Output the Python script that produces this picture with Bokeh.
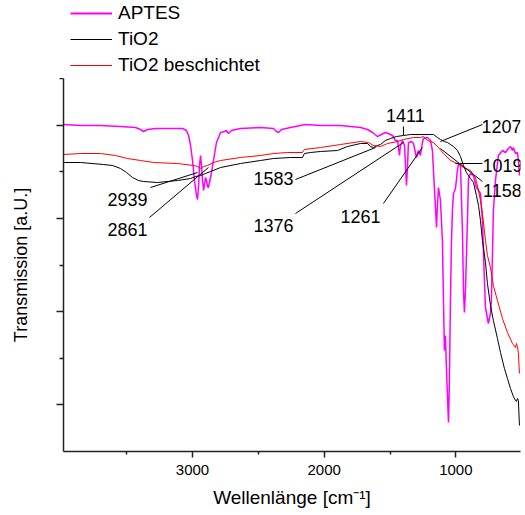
from bokeh.plotting import figure
from bokeh.layouts import column
from bokeh.models import Range1d, FixedTicker, Legend, LegendItem, ColumnDataSource
from bokeh.embed import file_html
from bokeh.resources import INLINE

FONT = "Liberation Sans"

# ---- data (wavenumber [cm-1], transmission [a.U.]) ----
aptes_wn = [3980, 3850, 3699, 3547, 3433, 3395, 3372, 3342, 3281, 3167, 3076, 3046, 3030, 3015,
            3000, 2985, 2970, 2962, 2954, 2947, 2939, 2932, 2924, 2916, 2909, 2901, 2894, 2886,
            2879, 2871, 2856, 2841, 2818, 2787, 2757, 2742, 2727, 2704, 2636, 2484, 2385, 2362,
            2347, 2324, 2256, 2142, 2028, 1876, 1724, 1671, 1633, 1595, 1565, 1535, 1512, 1481,
            1459, 1443, 1428, 1421, 1405, 1390, 1375, 1367, 1360, 1337, 1322, 1299, 1284, 1269,
            1254, 1246, 1216, 1193, 1178, 1162, 1147, 1140, 1132, 1117, 1102, 1094, 1087, 1079,
            1071, 1056, 1049, 1041, 1033, 1026, 1018, 1003, 988, 980, 965, 950, 942, 935, 927,
            912, 904, 889, 866, 844, 828, 813, 798, 783, 775, 760, 753, 737, 730, 722, 715, 699,
            677, 646, 623, 601, 585, 570, 563, 547, 532, 525, 517]
aptes_t = [327, 326, 326, 325, 324, 322, 320, 322, 323, 323, 323, 321, 316, 306,
           291, 271, 256, 252, 266, 286, 296, 286, 271, 261, 267, 274, 271, 265,
           264, 269, 279, 291, 309, 319, 320, 321, 318, 321, 323, 324, 323, 320,
           319, 322, 324, 327, 326, 326, 324, 322, 319, 315, 317, 319, 318, 316,
           311, 311, 296, 306, 311, 306, 266, 286, 309, 310, 308, 294, 301, 296,
           309, 313, 314, 311, 301, 261, 224, 246, 264, 251, 211, 151, 101, 116,
           81, 29, 71, 151, 211, 241, 258, 263, 281, 288, 286, 221, 161, 139, 161,
           231, 273, 278, 276, 264, 261, 258, 231, 171, 144, 133, 128, 138, 151, 196, 241, 271,
           296, 301, 299, 303, 305, 301, 304, 298, 299, 291, 276]

tio2_wn = [3980, 3850, 3676, 3607, 3547, 3501, 3456, 3410, 3372, 3266, 3114, 3015, 2977, 2939,
           2901, 2863, 2787, 2636, 2484, 2385, 2256, 2165, 2150, 2104, 2028, 1899, 1823, 1724,
           1671, 1648, 1626, 1595, 1572, 1535, 1497, 1451, 1398, 1345, 1269, 1216, 1170, 1140,
           1117, 1087, 1064, 1041, 1018, 988, 965, 942, 920, 889, 866, 844, 828, 813, 798, 775,
           760, 737, 715, 684, 661, 631, 608, 585, 563, 547, 540, 532, 525, 517]
tio2_t = [289, 289, 287, 286, 283, 279, 274, 271, 270, 269, 271, 273, 275, 276,
          278, 280, 284, 288, 291, 293, 294, 294, 298, 299, 300, 301, 305, 308,
          308, 305, 304, 306, 307, 311, 313, 315, 316, 317, 317, 317, 317, 314,
          312, 310, 309, 307, 305, 301, 295, 286, 279, 273, 269, 256, 246, 231, 211, 189,
          168, 146, 131, 113, 99, 83, 73, 63, 55, 51, 50, 53, 51, 26]

coated_wn = [3980, 3850, 3699, 3585, 3494, 3395, 3296, 3114, 2992, 2962, 2939, 2916, 2886, 2841,
             2787, 2636, 2484, 2385, 2279, 2165, 2150, 2028, 1876, 1724, 1664, 1626, 1572, 1519,
             1443, 1398, 1322, 1269, 1246, 1216, 1170, 1132, 1094, 1041, 988, 942, 889, 851, 828,
             813, 798, 775, 760, 737, 715, 684, 646, 608, 570, 547, 540, 532, 525, 517]
coated_t = [297, 298, 298, 296, 293, 291, 289, 288, 286, 285, 283, 285, 286, 289,
            291, 294, 296, 298, 299, 299, 302, 304, 307, 310, 309, 306, 305, 308,
            310, 312, 314, 314, 315, 311, 309, 304, 298, 291, 288, 284, 281, 274, 261,
            251, 238, 211, 196, 184, 166, 151, 133, 119, 108, 104, 108, 105, 98, 78]

series_names = ["APTES", "TiO2", "TiO2 beschichtet"]
series_colors = ["#FF00FF", "#000000", "#FF0000"]

x_ticks = [1000, 2000, 3000]
x_minor = [1500, 2500, 3500]

peak_labels = ["2939", "2861", "1583", "1376", "1261", "1411", "1207", "1019", "1158"]

# ---- layout / annotation positions ----
label_x = [3494, 3494, 2385, 2385, 1724, 1383, 654, 646, 646]
label_y = [252, 222, 273, 226, 235, 336, 325, 286, 261]
lead_x0 = [3319, 3327, 2218, 2218, 1550, 1398, 798, 798, 798]
lead_y0 = [264, 234, 272, 238, 248, 325, 327, 288, 270]
lead_x1 = [2962, 2879, 1610, 1398, 1254, 1398, 1117, 1003, 1117]
lead_y1 = [279, 284, 304, 309, 304, 316, 310, 288, 303]

p = figure(width=525, height=437, output_backend="svg", toolbar_location=None,
           x_range=Range1d(3980, 509), y_range=Range1d(0, 373),
           min_border_left=63, min_border_right=5, min_border_top=0, min_border_bottom=64)
p.outline_line_color = None
p.xgrid.visible = False
p.ygrid.visible = False
p.background_fill_color = "white"
p.border_fill_color = "white"

widths = [1.5, 1, 1]
r1 = p.line(aptes_wn, aptes_t, line_color=series_colors[0], line_width=widths[0])
r2 = p.line(tio2_wn, tio2_t, line_color=series_colors[1], line_width=widths[1])
r3 = p.line(coated_wn, coated_t, line_color=series_colors[2], line_width=widths[2])

p.segment(x0=lead_x0, y0=lead_y0, x1=lead_x1, y1=lead_y1, line_color="black", line_width=1)
src = ColumnDataSource(dict(x=label_x, y=label_y, t=peak_labels))
p.text(x="x", y="y", text="t", source=src, text_align="center", text_baseline="middle",
       text_font_size="18px", text_color="black", text_font={"value": FONT})

# axes
xa = p.xaxis[0]
xa.ticker = FixedTicker(ticks=x_ticks, minor_ticks=x_minor)
xa.axis_label = "Wellenlänge [cm⁻¹]"
xa.axis_label_text_font = FONT
xa.axis_label_text_font_size = "19px"
xa.axis_label_text_font_style = "normal"
xa.axis_label_text_color = "black"
xa.axis_label_standoff = 9
xa.major_label_text_font = FONT
xa.major_label_text_font_size = "15px"
xa.major_label_text_color = "black"
xa.major_label_standoff = 7
xa.major_tick_out = 6
xa.major_tick_in = 0
xa.minor_tick_out = 3
xa.minor_tick_in = 0
xa.axis_line_width = 1.5
xa.axis_line_color = "#222222"
xa.major_tick_line_color = "#222222"
xa.minor_tick_line_color = "#222222"
xa.major_tick_line_width = 1.5
xa.minor_tick_line_width = 1.5

y_major = [47, 140, 233, 326]
ya = p.yaxis[0]
ya.ticker = FixedTicker(ticks=y_major, minor_ticks=[93, 186, 280, 373])
ya.axis_label = "Transmission [a.U.]"
ya.axis_label_text_font = FONT
ya.axis_label_text_font_size = "18px"
ya.axis_label_text_font_style = "normal"
ya.axis_label_text_color = "black"
ya.axis_label_standoff = 26
ya.major_label_overrides = {v: "" for v in y_major}
ya.major_label_text_font_size = "12px"
ya.major_label_standoff = 0
ya.major_tick_out = 7
ya.major_tick_in = 0
ya.minor_tick_out = 4
ya.minor_tick_in = 0
ya.axis_line_width = 1.5
ya.axis_line_color = "#222222"
ya.major_tick_line_color = "#222222"
ya.minor_tick_line_color = "#222222"
ya.major_tick_line_width = 1.5
ya.minor_tick_line_width = 1.5

# legend strip above the plot (legend-only renderers lie outside its visible range)
lg = figure(width=525, height=78, output_backend="svg", toolbar_location=None,
            x_axis_type=None, y_axis_type=None, x_range=Range1d(0, 1), y_range=Range1d(0, 1),
            min_border_left=0, min_border_right=0, min_border_top=0, min_border_bottom=0)
lg.outline_line_color = None
lg.xgrid.visible = False
lg.ygrid.visible = False
items = []
for name, col, w in zip(series_names, series_colors, widths):
    rr = lg.line([5, 6], [5, 6], line_color=col, line_width=(2 if w > 1 else 1))
    items.append(LegendItem(label=name, renderers=[rr]))
legend = Legend(items=items, location=(7, 2), padding=0, margin=0, spacing=4,
                glyph_width=42, glyph_height=20, label_height=20, label_standoff=6,
                label_text_font=FONT, label_text_font_size="19px", label_text_color="black",
                border_line_alpha=0, background_fill_alpha=0)
lg.add_layout(legend)

layout = column(lg, p, spacing=0)
open("out.html", "w").write(file_html(layout, INLINE))
